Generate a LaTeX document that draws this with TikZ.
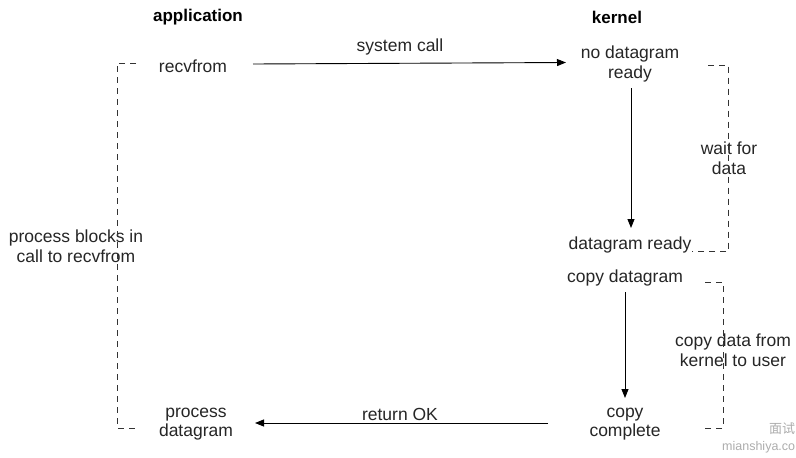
\documentclass[tikz,border=0pt]{standalone}
\usepackage{fontspec}
\setmainfont{Liberation Sans}
\newfontfamily\cjk{Noto Sans CJK SC}
\usetikzlibrary{arrows.meta}
\definecolor{txt}{HTML}{262626}
\definecolor{wm}{HTML}{ADADAD}
\tikzset{
  lbl/.style={inner sep=0pt, text=txt, align=center, font=\fontsize{17.5}{19.5}\selectfont},
  hdr/.style={inner sep=0pt, text=black, font=\fontsize{17}{19}\selectfont\bfseries},
  conn/.style={draw=black, line width=0.9pt, -{Triangle[length=9pt,width=7pt]}},
  brk/.style={draw=black!80, line width=0.9pt, dash pattern=on 6pt off 5pt},
  wmk/.style={inner sep=0pt, text=wm, anchor=west}
}
\begin{document}
\begin{tikzpicture}[x=1pt,y=-1pt]
\useasboundingbox[fill=white] (0,0) rectangle (796,458);
% headers
\node[hdr] (app) at (198,17.5) {application};
\node[hdr] (ker) at (617,17.5) {kernel};
% text nodes
\node[lbl] (recv) at (193,66) {recvfrom};
\node[lbl] (sys) at (400,47) {system call};
\node[lbl] (nodg) at (630,64) {no datagram\\ready};
\node[lbl] (dgr) at (630,245) {datagram ready};
\node[lbl] (wait) at (729,158) {wait for\\data};
\node[lbl] (cpdg) at (625,278) {copy datagram};
\node[lbl] (cpdata) at (733,350) {copy data from\\kernel to user};
\node[lbl] (cpc) at (625,424) {copy\\complete};
\node[lbl] (ret) at (400,414) {return OK};
\node[lbl] (proc) at (196,424) {process\\datagram};
\node[lbl] (blocks) at (76,246) {process blocks in\\call to recvfrom};
% connector end points
\coordinate (a1) at (253,64);
\coordinate (a2) at (566,62.5);
\coordinate (v1) at (631,88);
\coordinate (v2) at (631,228);
\coordinate (w1) at (625,292);
\coordinate (w2) at (625,398);
\coordinate (r1) at (548,423);
\coordinate (r2) at (255,423);
% arrows
\draw[conn] (a1) -- (a2);
\draw[conn] (v1) -- (v2);
\draw[conn] (w1) -- (w2);
\draw[conn] (r1) -- (r2);
% dashed brackets
\coordinate (L1) at (136,63);
\coordinate (L2) at (117,63);
\coordinate (L3) at (117,428);
\coordinate (L4) at (136,428);
\draw[brk] (L1) -- (L2) -- (L3) -- (L4);
\coordinate (K1) at (708,65);
\coordinate (K2) at (728.5,65);
\coordinate (K3) at (728.5,251);
\coordinate (K4) at (692,251);
\draw[brk] (K1) -- (K2) -- (K3) -- (K4);
\coordinate (C1) at (705,282);
\coordinate (C2) at (723,282);
\coordinate (C3) at (723,428);
\coordinate (C4) at (705,428);
\draw[brk] (C1) -- (C2) -- (C3) -- (C4);
% watermark
\node[wmk, font=\cjk\fontsize{13}{14}\selectfont] (wm1) at (769,429) {面试};
\node[wmk, font=\fontsize{12.5}{14}\selectfont] (wm2) at (722,447) {mianshiya.co};
\end{tikzpicture}
\end{document}
